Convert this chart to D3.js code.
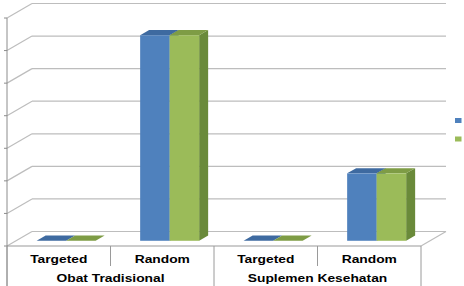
<!DOCTYPE html>
<html>
<head>
<meta charset="utf-8">
<script src="https://cdn.jsdelivr.net/npm/d3@7"></script>
<style>
    body { margin: 0; background: #fff; }
    svg { display: block; }
    .cat { font-family: "Liberation Sans", Arial, sans-serif; font-weight: bold; font-size: 11.6px; fill: #000; }
</style>
</head>
<body>
<svg id="chart" width="464" height="286"></svg>
<script>
// chart data
var categories = ["Targeted", "Random", "Targeted", "Random"];
var groups = ["Obat Tradisional", "Suplemen Kesehatan"];
var series1 = [0, 6.31, 0, 2.07];
var series2 = [0, 6.31, 0, 2.07];
var yTicks = [0, 1, 2, 3, 4, 5, 6, 7];

var seriesData = [series1, series2];
var frontColor = ["#4f81bd", "#9bbb59"];
var topColor = ["#3e6aa0", "#7e9c45"];
var sideColor = ["#365d8c", "#6a8a3a"];

var svg = d3.select("#chart"),
    width = +svg.attr("width"),
    height = +svg.attr("height");

var plotLeft = 7, plotRight = 421, plotBase = 246, plotTop = 18;
var depthX = 25, depthY = -14.5;   // wall depth vector
var t0 = 0.36, t1 = 0.72;          // bar front / back planes

var x = d3.scaleBand().domain(d3.range(categories.length)).range([plotLeft, plotRight]);
var y = d3.scaleLinear().domain([0, 7]).range([plotBase, plotTop]);

// project a point (px, value, depth t) to screen
function proj(px, v, t) {
    return [px + depthX * t, y(v) + depthY * t];
}
function poly(pts) {
    return "M" + pts.map(function (p) { return p[0] + "," + p[1]; }).join("L") + "Z";
}

var grid = svg.append("g");

// back wall grid + diagonals
yTicks.forEach(function (v) {
    var a = proj(plotLeft, v, 0), b = proj(plotLeft, v, 1), c = proj(plotRight, v, 1);
    grid.append("line").attr("x1", a[0]).attr("y1", a[1]).attr("x2", b[0]).attr("y2", b[1])
        .attr("stroke", "#bdbdbd").attr("stroke-width", 1.2);
    grid.append("line").attr("x1", b[0]).attr("y1", b[1]).attr("x2", c[0]).attr("y2", c[1])
        .attr("stroke", "#bdbdbd").attr("stroke-width", 1.2);
    grid.append("line").attr("x1", plotLeft - 3).attr("y1", a[1]).attr("x2", plotLeft).attr("y2", a[1])
        .attr("stroke", "#8c8c8c");
});

// floor edges
var f0 = proj(plotLeft, 0, 0), f1 = proj(plotRight, 0, 0), f2 = proj(plotRight, 0, 1);
grid.append("line").attr("x1", f0[0]).attr("y1", f0[1]).attr("x2", f1[0]).attr("y2", f1[1])
    .attr("stroke", "#9a9a9a").attr("stroke-width", 1.2);
grid.append("line").attr("x1", f1[0]).attr("y1", f1[1]).attr("x2", f2[0]).attr("y2", f2[1])
    .attr("stroke", "#bdbdbd").attr("stroke-width", 1.2);

// y axis line, runs down into the category table
grid.append("line").attr("x1", plotLeft).attr("y1", y(7)).attr("x2", plotLeft).attr("y2", height)
    .attr("stroke", "#8c8c8c");

// bars
var barW = x.bandwidth() * 0.285;
var bars = svg.append("g");
categories.forEach(function (c, i) {
    var gx = x(i) + x.bandwidth() / 2 - barW - 1.6;
    seriesData.forEach(function (vals, s) {
        var v = vals[i];
        var x0 = gx + s * barW, x1 = x0 + barW;
        // right side
        bars.append("path")
            .attr("d", poly([proj(x1, 0, t0), proj(x1, v, t0), proj(x1, v, t1), proj(x1, 0, t1)]))
            .attr("fill", sideColor[s]);
        // top
        bars.append("path")
            .attr("d", poly([proj(x0, v, t0), proj(x1, v, t0), proj(x1, v, t1), proj(x0, v, t1)]))
            .attr("fill", topColor[s]);
        // front
        var p0 = proj(x0, v, t0), p1 = proj(x1, 0, t0);
        bars.append("rect")
            .attr("x", p0[0]).attr("y", p0[1])
            .attr("width", p1[0] - p0[0]).attr("height", p1[1] - p0[1])
            .attr("fill", frontColor[s]);
    });
});

// category table
var tbl = svg.append("g");
d3.range(categories.length + 1).forEach(function (k) {
    var px = k < categories.length ? x(k) : plotRight;
    var long = (k % 2 === 0);
    tbl.append("line").attr("x1", px).attr("y1", plotBase).attr("x2", px)
        .attr("y2", long ? height : 266)
        .attr("stroke", "#9a9a9a");
});
categories.forEach(function (c, i) {
    tbl.append("text").attr("class", "cat")
        .attr("text-anchor", "middle")
        .attr("transform", "translate(" + (x(i) + x.bandwidth() / 2) + ",263.3) scale(1.19,1)")
        .text(c);
});
groups.forEach(function (g, j) {
    tbl.append("text").attr("class", "cat")
        .attr("text-anchor", "middle")
        .attr("transform", "translate(" + (x(j * 2) + x.bandwidth()) + ",282.3) scale(1.19,1)")
        .text(g);
});

// legend (markers only)
seriesData.forEach(function (vals, s) {
    svg.append("rect")
        .attr("x", 455).attr("y", 118 + s * 18.5)
        .attr("width", 6.5).attr("height", 5)
        .attr("fill", frontColor[s]);
});
</script>
</body>
</html>
